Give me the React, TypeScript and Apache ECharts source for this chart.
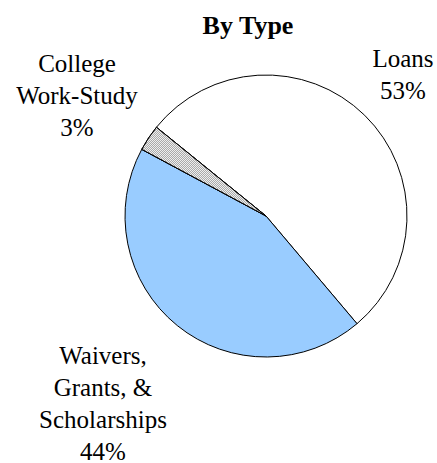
import React, { useEffect, useRef } from "react";
import * as echarts from "echarts";

const titleText = "By Type";
const categories = ["Loans", "Waivers,\nGrants, &\nScholarships", "College\nWork-Study"];
const values = [53, 44, 3];
const colors = ["#ffffff", "#99ccff", "#eeeeee"];
const labelAnchors: [number, number][] = [
  [403, 74],
  [103, 403],
  [77, 95],
];

export default function App() {
  const ref = useRef<HTMLDivElement>(null);
  useEffect(() => {
    if (!ref.current) return;
    const chart = echarts.init(ref.current, undefined, { renderer: "svg" });
    const font = "Liberation Serif";
    chart.setOption({
      animation: false,
      backgroundColor: "#ffffff",
      textStyle: { fontFamily: font },
      title: {
        text: titleText,
        left: 243,
        top: 7,
        textAlign: "center",
        textStyle: { fontFamily: font, fontSize: 26, fontWeight: "bold", color: "#000" },
      },
      series: [
        {
          type: "pie",
          center: [266, 216],
          radius: 141,
          startAngle: 141,
          clockwise: true,
          silent: true,
          itemStyle: { borderColor: "#000", borderWidth: 1 },
          label: {
            show: true,
            position: "outside",
            formatter: "{b}\n{d}%",
            fontFamily: font,
            fontSize: 25,
            lineHeight: 32,
            color: "#000",
            align: "center",
            overflow: "none",
          },
          labelLine: { show: false },
          labelLayout: (p: any) => {
            const a = labelAnchors[p.dataIndex];
            return { x: a[0], y: a[1], align: "center", verticalAlign: "middle" };
          },
          data: categories.map((c, i) => ({
            name: c,
            value: values[i],
            itemStyle:
              i === 2
                ? {
                    color: colors[i],
                    decal: {
                      symbol: "rect",
                      symbolSize: 1,
                      color: "#aaaaaa",
                      dashArrayX: [[1, 1], [0, 1, 1, 0]],
                      dashArrayY: [1, 0],
                    },
                  }
                : { color: colors[i] },
          })),
        },
      ],
    });
    return () => chart.dispose();
  }, []);
  return (
    <div
      ref={ref}
      style={{ position: "fixed", left: 0, top: 0, width: 437, height: 463 }}
    />
  );
}
